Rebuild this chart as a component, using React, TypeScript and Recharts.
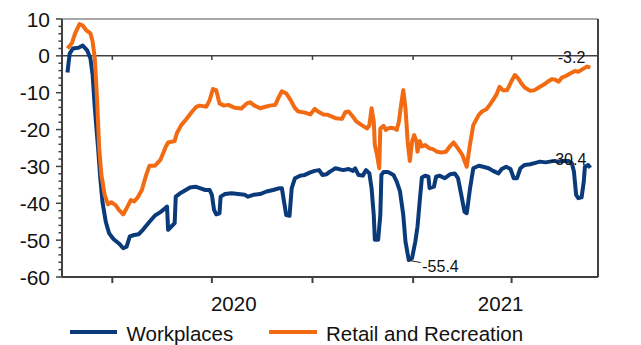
import React from 'react';
import { LineChart, Line, XAxis, YAxis, ReferenceLine, ReferenceDot } from 'recharts';

const BLUE = '#0A3A7A';
const ORANGE = '#F26B12';
const AXIS = '#404040';
const FONT = '"Liberation Sans", Arial, sans-serif';

// x = days since 15 Feb 2020
const workplacesDays = [5, 7, 10, 15, 19, 23, 26, 28, 30, 33, 35, 37, 40, 43, 47, 52, 56, 59, 62, 66, 70, 74, 80, 85, 90, 94, 96, 97, 100, 103, 104, 108, 112, 117, 122, 126, 131, 135, 137, 139, 141, 144, 145, 149, 155, 161, 167, 170, 175, 181, 187, 193, 199, 201, 203, 205, 208, 210, 213, 218, 222, 227, 231, 235, 238, 242, 245, 250, 257, 262, 266, 268, 271, 275, 278, 281, 283, 285, 286, 289, 291, 292, 294, 298, 303, 306, 309, 312, 314, 317, 320, 323, 325, 327, 329, 332, 335, 336, 340, 342, 345, 350, 355, 359, 362, 365, 368, 370, 373, 376, 381, 385, 390, 394, 399, 402, 406, 410, 413, 416, 419, 423, 428, 432, 437, 442, 446, 450, 454, 458, 463, 466, 468, 470, 472, 475, 477, 478, 481, 483];
const workplacesValues = [-4.5, 0.6, 2.0, 2.2, 2.8, 1.5, -0.7, -5.2, -14.2, -25.1, -33.2, -39.6, -45.0, -48.1, -49.7, -50.9, -52.2, -51.8, -49.0, -48.6, -48.4, -47.2, -45.0, -43.3, -42.4, -41.4, -40.9, -47.2, -46.3, -45.4, -38.2, -37.3, -36.6, -35.7, -35.5, -35.9, -36.4, -36.4, -37.7, -41.8, -43.0, -42.7, -38.2, -37.5, -37.3, -37.5, -37.7, -38.2, -37.7, -37.5, -36.8, -36.4, -35.9, -35.9, -39.6, -43.2, -43.4, -35.9, -33.2, -32.5, -32.3, -31.6, -31.2, -31.0, -32.3, -32.1, -31.4, -30.5, -31.0, -30.7, -31.2, -30.5, -32.3, -32.5, -31.0, -31.9, -35.9, -43.2, -49.9, -49.9, -43.2, -32.3, -31.5, -31.5, -32.3, -34.1, -36.8, -43.2, -50.4, -55.4, -54.9, -50.4, -46.3, -39.5, -33.0, -32.5, -32.8, -35.9, -35.5, -32.8, -32.5, -33.2, -32.1, -31.9, -33.2, -37.7, -42.3, -42.7, -36.0, -30.5, -29.8, -30.1, -30.5, -31.2, -31.9, -30.7, -30.1, -30.7, -33.2, -33.2, -30.5, -29.6, -29.4, -29.1, -28.7, -28.9, -28.7, -28.5, -28.7, -28.5, -28.5, -29.1, -31.4, -37.7, -38.6, -38.4, -34.1, -30.1, -29.6, -30.4];

const retailDays = [5, 9, 12, 16, 19, 22, 26, 28, 30, 32, 34, 36, 39, 42, 45, 49, 52, 56, 59, 63, 66, 69, 73, 77, 80, 85, 90, 95, 97, 103, 105, 109, 113, 119, 123, 126, 132, 135, 138, 141, 144, 148, 152, 158, 164, 169, 172, 176, 181, 186, 190, 195, 198, 201, 205, 209, 213, 216, 222, 227, 231, 234, 239, 243, 250, 256, 259, 262, 266, 269, 274, 279, 281, 283, 285, 286, 288, 290, 291, 294, 296, 298, 301, 304, 306, 308, 310, 312, 314, 316, 318, 320, 322, 324, 325, 327, 329, 332, 336, 339, 343, 347, 351, 355, 358, 362, 366, 370, 373, 376, 381, 384, 388, 391, 394, 397, 400, 403, 407, 411, 414, 417, 420, 423, 428, 432, 437, 442, 445, 448, 451, 454, 457, 461, 465, 469, 472, 476, 480, 483];
const retailValues = [2.0, 3.4, 6.1, 8.6, 8.2, 7.0, 6.1, 3.8, -0.7, -11.5, -25.1, -32.3, -37.7, -40.3, -39.7, -40.5, -41.8, -43.0, -41.4, -39.1, -39.5, -38.5, -36.4, -32.3, -29.8, -29.8, -28.2, -24.6, -23.5, -23.1, -21.0, -18.8, -17.4, -15.1, -13.8, -13.5, -13.8, -12.0, -9.0, -9.3, -12.9, -13.5, -13.3, -14.1, -14.3, -12.9, -12.6, -13.5, -14.2, -13.8, -13.5, -13.3, -11.3, -9.6, -10.2, -12.0, -14.2, -15.1, -15.4, -15.9, -14.4, -15.1, -15.9, -16.0, -16.9, -17.1, -15.3, -15.1, -16.5, -17.8, -18.8, -19.7, -18.8, -14.2, -17.8, -24.2, -26.9, -30.5, -19.7, -19.0, -20.1, -19.7, -19.5, -19.7, -20.1, -17.8, -13.3, -9.3, -14.2, -23.3, -28.5, -23.3, -21.5, -23.3, -26.0, -23.1, -24.6, -24.2, -25.1, -25.3, -26.0, -26.2, -26.0, -24.4, -23.5, -25.1, -26.9, -30.1, -24.0, -18.8, -16.0, -15.1, -14.5, -13.3, -12.0, -10.6, -8.4, -9.3, -9.3, -6.8, -5.2, -6.1, -7.5, -8.6, -9.5, -9.3, -8.4, -7.5, -6.8, -6.3, -6.5, -7.0, -5.9, -5.4, -4.7, -4.1, -4.3, -3.6, -2.9, -3.2];

// quarter ticks: 1 Apr 2020, 1 Jul, 1 Oct, 1 Jan 2021, 1 Apr 2021
const quarterTicks = [46, 137, 229, 321, 411];
const yearLabels = ['2020', '2021'];
const yearLabelDays = [157, 401];
const majorYTicks = [10, 0, -10, -20, -30, -40, -50, -60];
const minorYTicks: number[] = [];
for (let v = -60; v <= 10; v += 2) minorYTicks.push(v);

const seriesNames = ['Workplaces', 'Retail and Recreation'];

const workData = workplacesDays.map((d, i) => ({ d, v: workplacesValues[i] }));
const retailData = retailDays.map((d, i) => ({ d, v: retailValues[i] }));

const minIdx = workplacesValues.indexOf(Math.min(...workplacesValues));
const lastWork = workData[workData.length - 1];
const lastRetail = retailData[retailData.length - 1];

const XTick = (props: any) => {
  const { x, y, payload } = props;
  const axisY = y - 8;
  const yi = yearLabelDays.indexOf(payload.value);
  if (yi >= 0) {
    return (
      <text x={x} y={axisY + 34} textAnchor="middle" fontSize={20.5} fontFamily={FONT} fill="#111">
        {yearLabels[yi]}
      </text>
    );
  }
  return <line x1={x} x2={x} y1={axisY} y2={axisY + 6} stroke={AXIS} strokeWidth={2} />;
};

const LeftTick = (props: any) => {
  const { x, y, payload } = props;
  const v = payload.value;
  const axisX = x + 12;
  const major = majorYTicks.includes(v);
  return (
    <g>
      <line x1={axisX - (major ? 6 : 3.5)} x2={axisX} y1={y} y2={y} stroke={AXIS} strokeWidth={1.5} />
      {major && (
        <text x={x} y={y} dy="0.36em" textAnchor="end" fontSize={21} fontFamily={FONT} fill="#111">
          {v}
        </text>
      )}
    </g>
  );
};

const RightTick = (props: any) => {
  const { x, y, payload } = props;
  const v = payload.value;
  const axisX = x - 12;
  const major = majorYTicks.includes(v);
  return (
    <g>
      <line x1={axisX} x2={axisX + (major ? 6 : 3.5)} y1={y} y2={y} stroke={AXIS} strokeWidth={1.5} />
      {major && (
        <text x={x} y={y} dy="0.36em" textAnchor="start" fontSize={21} fontFamily={FONT} fill="#111">
          {v}
        </text>
      )}
    </g>
  );
};

const annText = (dx: number, dy: number, anchor: string, text: string, leader?: boolean) => (p: any) => {
  const vb = p.viewBox || {};
  const cx = vb.x + (vb.width || 0) / 2;
  const cy = vb.y + (vb.height || 0) / 2;
  return (
    <g>
      {leader && <line x1={cx + 1} y1={cy + 0.5} x2={cx + 12} y2={cy + 2.5} stroke="#222" strokeWidth={1} />}
      <text x={cx + dx} y={cy + dy} textAnchor={anchor as any} fontSize={16} fontFamily={FONT} fill="#111">
        {text}
      </text>
    </g>
  );
};

export default function App() {
  return (
    <div style={{ position: 'absolute', left: 0, top: 0, width: 641, height: 345, background: '#fff', overflow: 'hidden' }}>
      <LineChart width={641} height={345} margin={{ top: 19, right: 0, bottom: 18, left: 5 }}>
        <XAxis
          xAxisId="x"
          type="number"
          dataKey="d"
          domain={[0, 490]}
          allowDataOverflow
          ticks={[...quarterTicks, ...yearLabelDays].sort((a, b) => a - b)}
          interval={0}
          tickSize={6}
          tickMargin={2}
          tickLine={false}
          tick={<XTick />}
          axisLine={{ stroke: AXIS, strokeWidth: 2 }}
          height={50}
        />
        <YAxis
          yAxisId="left"
          type="number"
          domain={[-60, 10]}
          ticks={minorYTicks}
          interval={0}
          tickSize={6}
          tickMargin={6}
          tickLine={false}
          tick={<LeftTick />}
          axisLine={{ stroke: AXIS, strokeWidth: 2 }}
          width={57}
        />
        <YAxis
          yAxisId="right"
          orientation="right"
          type="number"
          domain={[-60, 10]}
          ticks={minorYTicks}
          interval={0}
          tickSize={6}
          tickMargin={6}
          tickLine={false}
          tick={<RightTick />}
          axisLine={{ stroke: AXIS, strokeWidth: 2 }}
          width={43}
        />
        <ReferenceLine xAxisId="x" yAxisId="left" y={10} stroke="#8a8a8a" strokeWidth={1.5} />
        <ReferenceLine xAxisId="x" yAxisId="left" y={0} stroke={AXIS} strokeWidth={1.5} />
        {quarterTicks.map((d) => (
          <ReferenceLine
            key={d}
            xAxisId="x"
            yAxisId="left"
            segment={[{ x: d, y: 0 }, { x: d, y: -1.1 }]}
            stroke={AXIS}
            strokeWidth={1.5}
          />
        ))}
        <Line
          xAxisId="x"
          yAxisId="left"
          data={workData}
          dataKey="v"
          name={seriesNames[0]}
          type="linear"
          stroke={BLUE}
          strokeWidth={4}
          strokeLinejoin="round"
          dot={false}
          isAnimationActive={false}
        />
        <Line
          xAxisId="x"
          yAxisId="left"
          data={retailData}
          dataKey="v"
          name={seriesNames[1]}
          type="linear"
          stroke={ORANGE}
          strokeWidth={4}
          strokeLinejoin="round"
          dot={false}
          isAnimationActive={false}
        />
        <ReferenceDot
          xAxisId="x"
          yAxisId="left"
          x={workplacesDays[minIdx]}
          y={workplacesValues[minIdx]}
          r={1}
          fill="none"
          stroke="none"
          label={annText(13.5, 12, 'start', String(workplacesValues[minIdx]), true)}
        />
        <ReferenceDot
          xAxisId="x"
          yAxisId="left"
          x={lastWork.d}
          y={lastWork.v}
          r={1}
          fill="none"
          stroke="none"
          label={annText(-4, -3, 'end', String(lastWork.v))}
        />
        <ReferenceDot
          xAxisId="x"
          yAxisId="left"
          x={lastRetail.d}
          y={lastRetail.v}
          r={1}
          fill="none"
          stroke="none"
          label={annText(-5, -5, 'end', String(lastRetail.v))}
        />
      </LineChart>
      <svg width={641} height={345} style={{ position: 'absolute', left: 0, top: 0, pointerEvents: 'none' }}>
        <line x1={70} x2={117} y1={332} y2={332} stroke={BLUE} strokeWidth={4} />
        <text x={126.5} y={341} fontSize={20.5} fontFamily={FONT} fill="#111">{seriesNames[0]}</text>
        <line x1={269} x2={317} y1={332} y2={332} stroke={ORANGE} strokeWidth={4} />
        <text x={326} y={341} fontSize={20.5} fontFamily={FONT} fill="#111">{seriesNames[1]}</text>
      </svg>
    </div>
  );
}
